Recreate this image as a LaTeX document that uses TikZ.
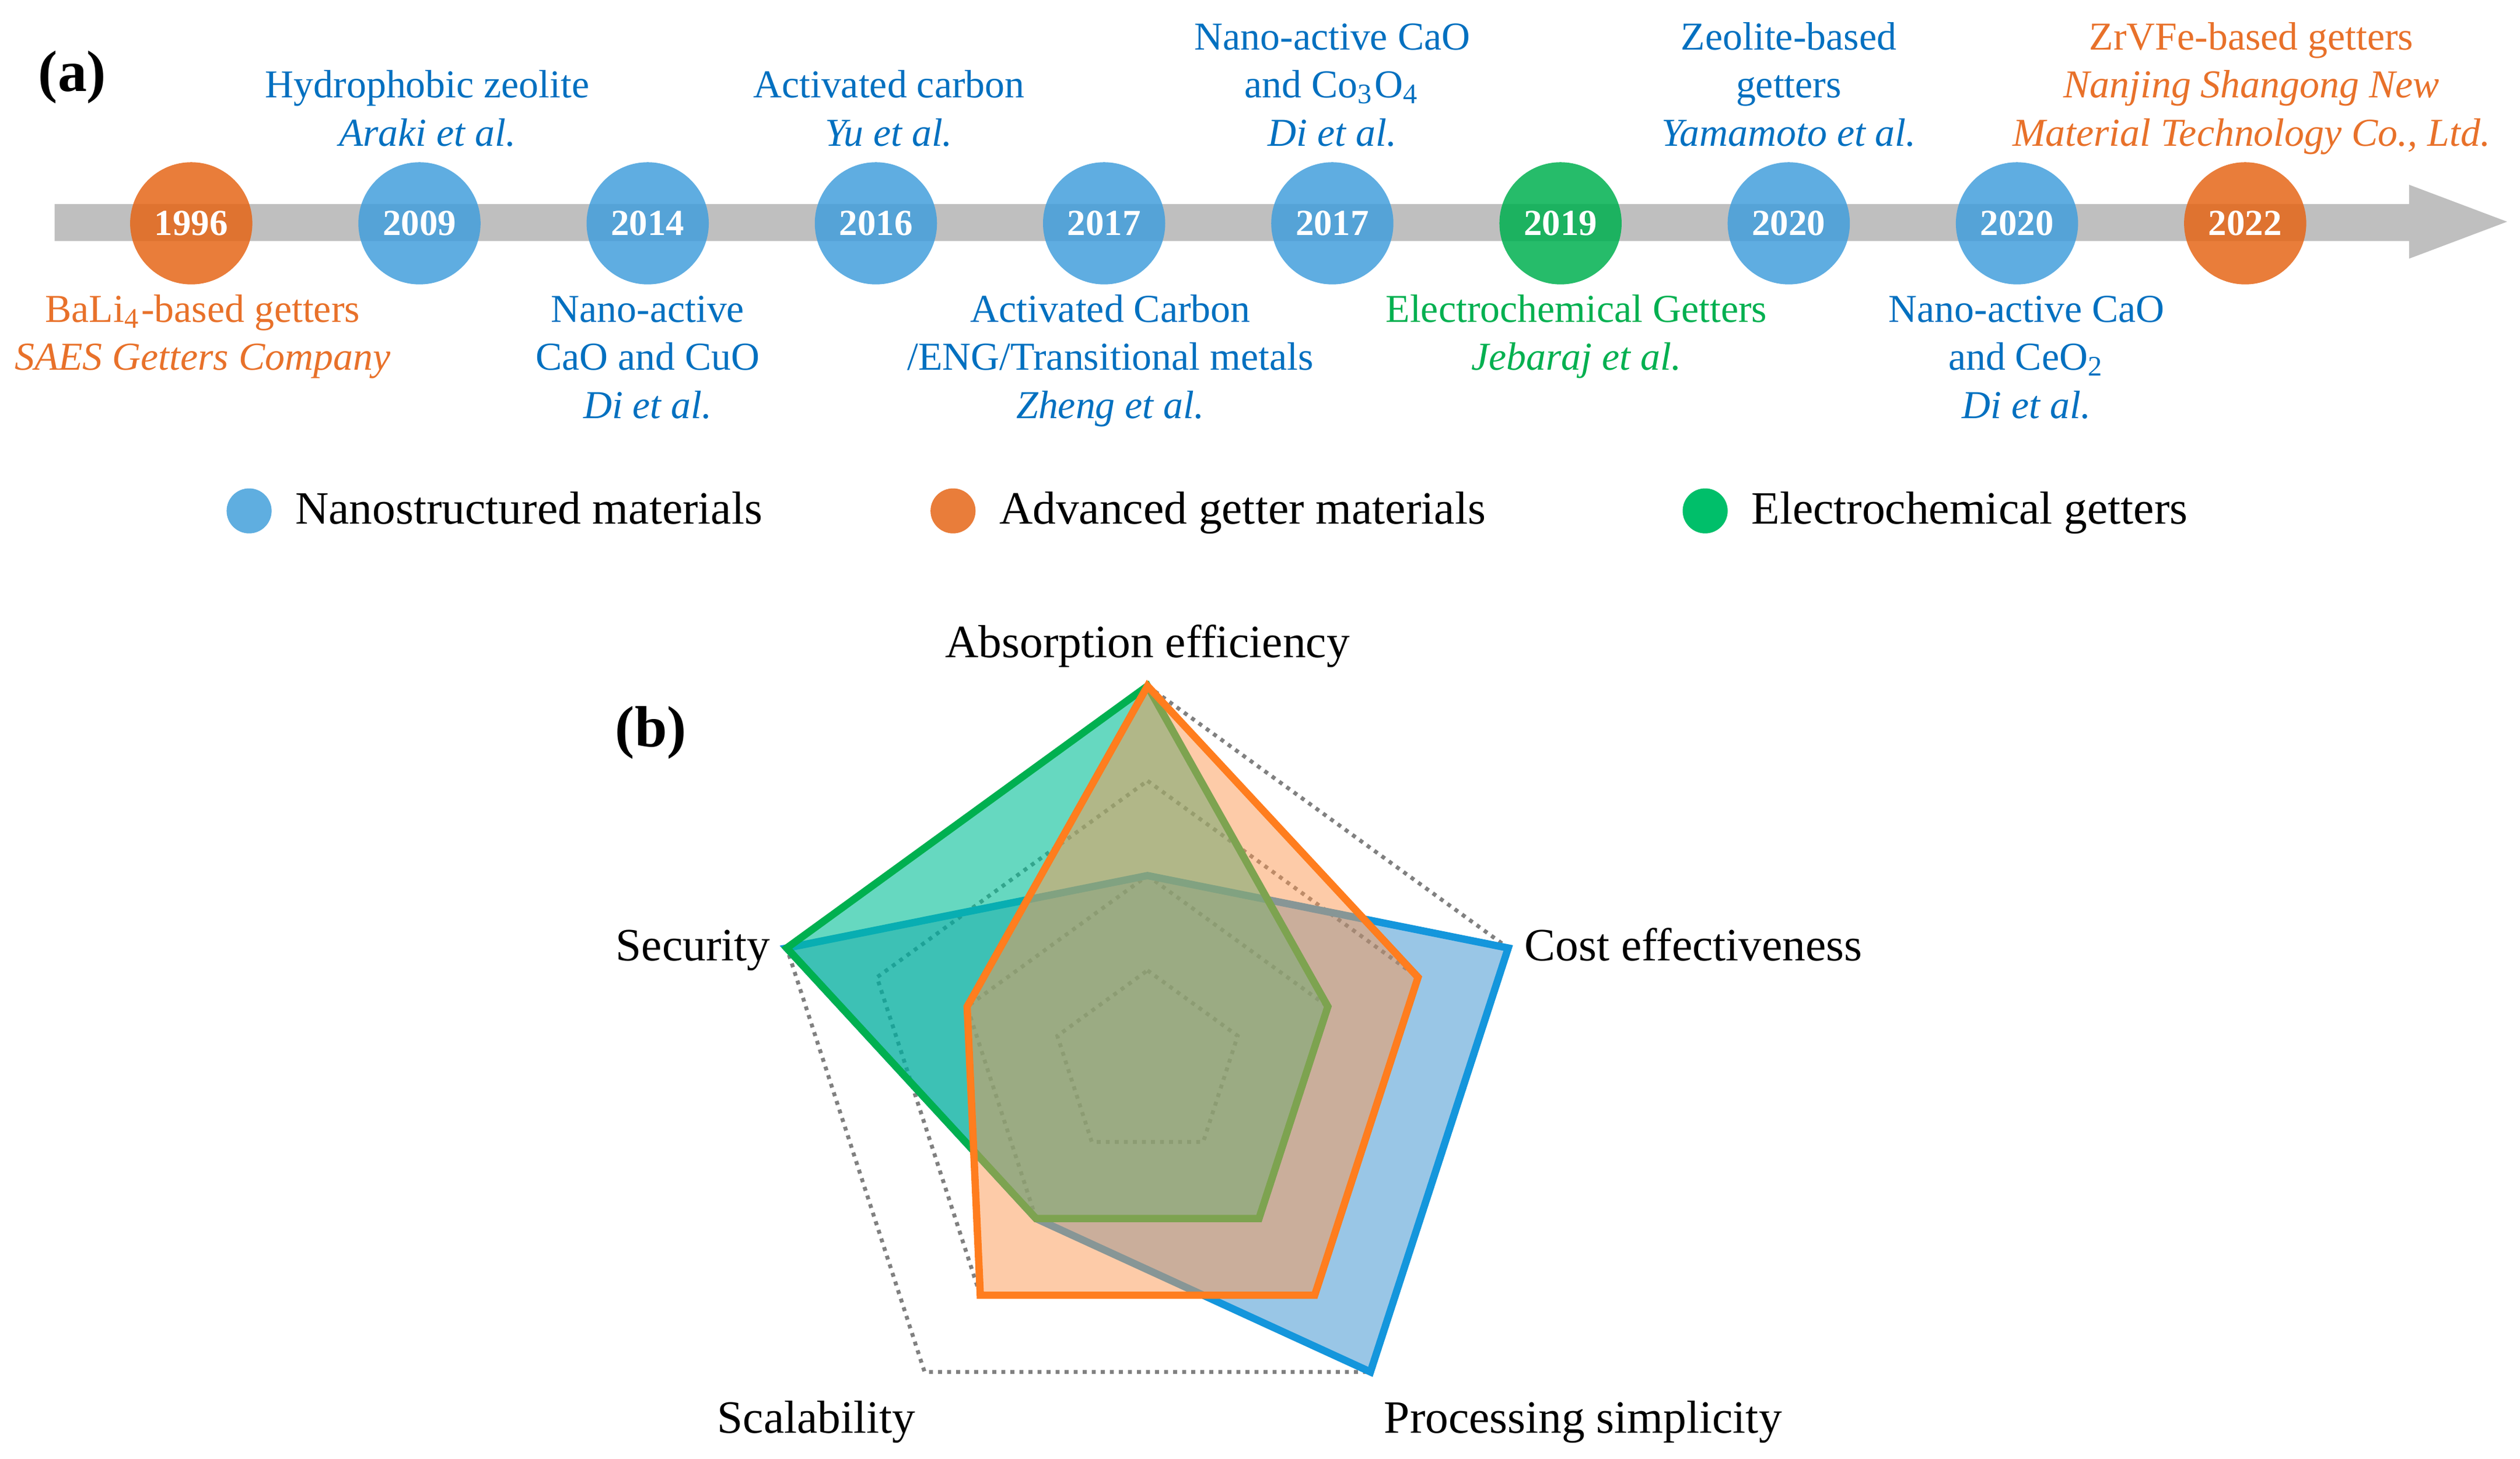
\documentclass[tikz,border=0pt]{standalone}
\usepackage{fontspec}
\setmainfont{Liberation Serif}
\usetikzlibrary{positioning}
\definecolor{ballblue}{HTML}{439FDC}
\definecolor{ballorange}{HTML}{E56618}
\definecolor{ballgreen}{HTML}{00B050}
\definecolor{keyblue}{HTML}{5FAEE0}
\definecolor{keyorange}{HTML}{E97D3A}
\definecolor{keygreen}{HTML}{00BF6A}
\definecolor{txtblue}{HTML}{0070C0}
\definecolor{txtorange}{HTML}{E8712A}
\definecolor{txtgreen}{HTML}{00B050}
\definecolor{bargray}{HTML}{BFBFBF}
\definecolor{nanoline}{HTML}{1496DC}
\definecolor{nanofill}{HTML}{0070C0}
\definecolor{advline}{HTML}{FF7D1E}
\definecolor{advfill}{HTML}{FB9751}
\definecolor{echemline}{HTML}{00B050}
\definecolor{echemfill}{HTML}{00BE96}
\begin{document}
\begin{tikzpicture}[x=0.01cm,y=0.01cm,
    yearball/.style={circle,minimum size=0.76cm,inner sep=0,outer sep=0,fill opacity=0.85,text opacity=1,text=white,font=\fontsize{6.5}{7}\selectfont\bfseries},
    keyball/.style={circle,minimum size=0.28cm,inner sep=0,outer sep=0},
    lbl/.style={align=center,inner sep=0,outer sep=0,font=\fontsize{7}{8.53}\selectfont},
    keytext/.style={inner sep=0,outer sep=0,text height=1ex,text depth=0pt,font=\fontsize{8.2}{9.8}\selectfont},
    axislbl/.style={inner sep=0,text height=1ex,text depth=0pt,font=\fontsize{8.2}{9.8}\selectfont},
    gridline/.style={gray,line width=0.7pt,dash pattern=on 0.7pt off 0.9pt},
    series/.style={line width=1.3pt}]
    \useasboundingbox (0,0) rectangle (1568,908);
    % (a) timeline
    \node[font=\fontsize{10.3}{12}\selectfont\bfseries] (pa) at (45,860) {(a)};
    \fill[bargray] (34,758) -- (1499,758) -- (1499,747) -- (1560,770) -- (1499,793) -- (1499,781) -- (34,781) -- cycle;
    \foreach \yr/\col [count=\i from 0] in {1996/ballorange,2009/ballblue,2014/ballblue,2016/ballblue,2017/ballblue,2017/ballblue,2019/ballgreen,2020/ballblue,2020/ballblue,2022/ballorange}
        \node[yearball,fill=\col] (t\i) at ({119+142*\i},769) {\yr};
    \node[lbl,text=txtorange,below=0.7pt of t0,xshift=2pt] (l0) {\strut BaLi\textsubscript{4}-based getters\\\textit{SAES Getters Company}};
    \node[lbl,text=txtblue,above=0.3pt of t1,xshift=1.4pt] (l1) {Hydrophobic zeolite\\\textit{Araki et al.}\strut};
    \node[lbl,text=txtblue,below=0.7pt of t2] (l2) {\strut Nano-active\\CaO and CuO\\\textit{Di et al.}};
    \node[lbl,text=txtblue,above=0.3pt of t3,xshift=2.3pt] (l3) {Activated carbon\\\textit{Yu et al.}\strut};
    \node[lbl,text=txtblue,below=0.7pt of t4,xshift=1.1pt] (l4) {\strut Activated Carbon\\/ENG/Transitional metals\\\textit{Zheng et al.}};
    \node[lbl,text=txtblue,above=0.3pt of t5] (l5) {Nano-active CaO\\and Co\textsubscript{3}O\textsubscript{4}\\\textit{Di et al.}\strut};
    \node[lbl,text=txtgreen,below=0.7pt of t6,xshift=2.8pt] (l6) {\strut Electrochemical Getters\\\textit{Jebaraj et al.}};
    \node[lbl,text=txtblue,above=0.3pt of t7] (l7) {Zeolite-based\\getters\\\textit{Yamamoto et al.}\strut};
    \node[lbl,text=txtblue,below=0.7pt of t8,xshift=1.7pt] (l8) {\strut Nano-active CaO\\and CeO\textsubscript{2}\\\textit{Di et al.}};
    \node[lbl,text=txtorange,above=0.3pt of t9,xshift=1.1pt] (l9) {ZrVFe-based getters\\\textit{Nanjing Shangong New}\\\textit{Material Technology Co., Ltd.}\strut};
    % legend
    \foreach \col/\px [count=\k] in {keyblue/155,keyorange/593,keygreen/1061}
        \node[keyball,fill=\col] (k\k) at (\px,590) {};
    \node[keytext,right=4.2pt of k1] (kt1) {Nanostructured materials};
    \node[keytext,right=4.2pt of k2] (kt2) {Advanced getter materials};
    \node[keytext,right=4.2pt of k3] (kt3) {Electrochemical getters};
    % (b) radar
    \node[font=\fontsize{10.3}{12}\selectfont\bfseries] (pb) at (405,452) {(b)};
    \begin{scope}[shift={(714,245)}]
        \foreach \r in {0.25,0.5,0.75,1}
            \draw[gridline] (90:\r*236) -- (18:\r*236) -- (-54:\r*236) -- (-126:\r*236) -- (162:\r*236) -- cycle;
        \foreach \ln/\fl/\op/\a/\b/\c/\d/\e in {nanoline/nanofill/0.4/0.5/1/1/0.5/1,echemline/echemfill/0.6/1/0.5/0.5/0.5/1,advline/advfill/0.5/1/0.75/0.75/0.75/0.5}
            \draw[series,draw=\ln,fill=\fl,fill opacity=\op] (90:\a*236) -- (18:\b*236) -- (-54:\c*236) -- (-126:\d*236) -- (162:\e*236) -- cycle;
        \node[axislbl] (abs) at (0,262) {Absorption efficiency};
        \node[axislbl,anchor=west] (cost) at (234,73) {Cost effectiveness};
        \node[axislbl] (proc) at (271,-221) {Processing simplicity};
        \node[axislbl] (scal) at (-206,-221) {Scalability};
        \node[axislbl,anchor=east] (sec) at (-234,73) {Security};
    \end{scope}
\end{tikzpicture}
\end{document}
